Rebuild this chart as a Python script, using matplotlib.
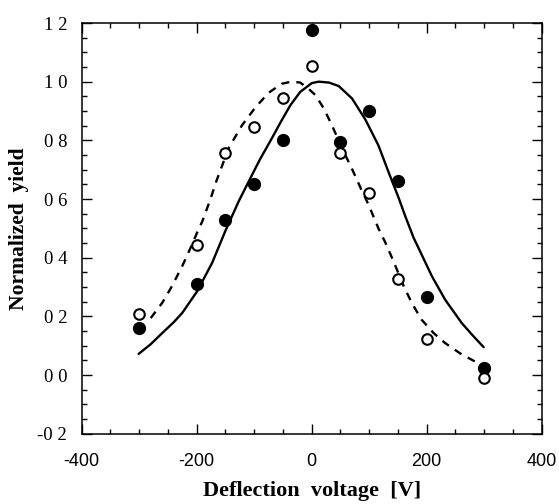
import matplotlib
matplotlib.use("Agg")
import matplotlib.pyplot as plt
from matplotlib.ticker import MultipleLocator, FixedLocator, FixedFormatter

# measured data
voltage = [-300, -200, -150, -100, -50, 0, 50, 100, 150, 200, 300]
yield_filled = [0.159, 0.312, 0.528, 0.651, 0.801, 1.175, 0.795, 0.900, 0.662, 0.265, 0.023]
yield_open = [0.208, 0.443, 0.758, 0.846, 0.943, 1.053, 0.758, 0.621, 0.329, 0.123, -0.011]

# fitted curves
fit_solid_x = [-301, -280, -260, -240, -225, -199, -173, -150, -127, -109, -90, -69, -54,
               -37, -20, 0, 12, 30, 47, 70, 93, 116, 134, 151, 163, 177, 186, 209, 232,
               261, 280, 299]
fit_solid_y = [0.072, 0.105, 0.143, 0.180, 0.212, 0.286, 0.383, 0.492, 0.592, 0.662, 0.735,
               0.808, 0.862, 0.920, 0.965, 0.995, 1.000, 0.997, 0.985, 0.943, 0.872, 0.783,
               0.690, 0.605, 0.540, 0.469, 0.432, 0.337, 0.257, 0.177, 0.135, 0.095]

fit_dash_x = [-280, -260, -243, -225, -208, -199, -190, -176, -166, -144, -121, -98, -75,
              -52, -35, -20, -5, 6, 21, 35, 53, 70, 85, 99, 116, 128, 142, 160, 174, 191,
              212, 232, 258, 284, 300]
fit_dash_y = [0.194, 0.246, 0.303, 0.372, 0.445, 0.487, 0.525, 0.600, 0.660, 0.775, 0.852,
              0.912, 0.962, 0.993, 1.000, 0.997, 0.975, 0.955, 0.909, 0.852, 0.772, 0.703,
              0.638, 0.580, 0.500, 0.452, 0.389, 0.303, 0.246, 0.189, 0.143, 0.109, 0.074,
              0.046, 0.023]

x_ticks = [-400, -200, 0, 200, 400]
x_ticklabels = ["-400", "-200", "0", "200", "400"]
y_ticks = [-0.2, 0.0, 0.2, 0.4, 0.6, 0.8, 1.0, 1.2]
y_ticklabels = ["-0 2", "0 0", "0 2", "0 4", "0 6", "0 8", "1 0", "1 2"]

fig = plt.figure(figsize=(5.59, 5.04), dpi=100)
ax = fig.add_axes([81.7 / 559, 1 - 433.7 / 504, 460 / 559, 410.7 / 504])

ax.plot(fit_solid_x, fit_solid_y, color="black", lw=1.7, solid_capstyle="round",
        solid_joinstyle="round")
ax.plot(fit_dash_x, fit_dash_y, color="black", lw=1.7, linestyle=(0, (3.4, 3.0)))
ax.plot(voltage, yield_filled, linestyle="none", marker="o", ms=8.5,
        mfc="black", mec="black")
ax.plot(voltage, yield_open, linestyle="none", marker="o", ms=7.6,
        mfc="white", mec="black", mew=1.5)

ax.set_xlim(-400, 400)
ax.set_ylim(-0.2, 1.2)

ax.xaxis.set_major_locator(FixedLocator(x_ticks))
ax.xaxis.set_major_formatter(FixedFormatter(x_ticklabels))
ax.xaxis.set_minor_locator(MultipleLocator(50))
ax.yaxis.set_major_locator(FixedLocator(y_ticks))
ax.yaxis.set_major_formatter(FixedFormatter(y_ticklabels))
ax.yaxis.set_minor_locator(MultipleLocator(0.05))

ax.tick_params(which="both", direction="in", top=True, right=True, width=1.0)
ax.tick_params(which="major", length=7.5)
ax.tick_params(which="minor", length=3.6)
ax.tick_params(axis="x", which="major", pad=14)
ax.tick_params(axis="y", which="major", pad=10.5)

for lab in ax.get_xticklabels():
    lab.set_fontfamily("Liberation Sans")
    lab.set_fontsize(13)
for lab in ax.get_yticklabels():
    lab.set_fontfamily("Liberation Serif")
    lab.set_fontsize(13.5)

for sp in ax.spines.values():
    sp.set_linewidth(1.1)

ax.set_xlabel("Deflection  voltage  [V]", family="Liberation Serif",
              fontweight="bold", fontsize=16, labelpad=8)
ax.set_ylabel("Normalized  yield", family="Liberation Serif",
              fontweight="bold", fontsize=15.5, labelpad=6)

fig.savefig("out.png", dpi=100)
